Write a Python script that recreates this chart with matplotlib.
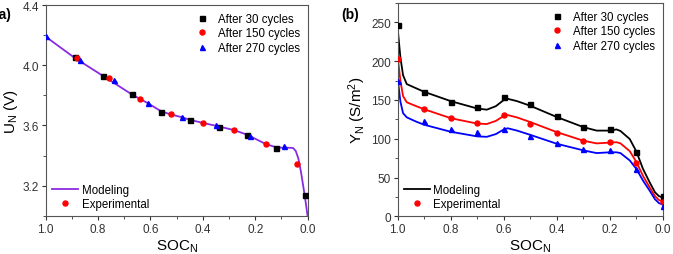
import numpy as np
import matplotlib.pyplot as plt
from matplotlib.ticker import MultipleLocator
from matplotlib.lines import Line2D

# ── DATA: panel (a), voltage vs SOC ────────────────────────────────
a_soc_30 = [0.89, 0.78, 0.67, 0.56, 0.45, 0.34, 0.23, 0.12, 0.01]
a_u_30 = [4.053, 3.929, 3.810, 3.692, 3.635, 3.593, 3.540, 3.452, 3.140]
a_soc_150 = [0.88, 0.76, 0.64, 0.52, 0.40, 0.28, 0.16, 0.04]
a_u_150 = [4.046, 3.916, 3.776, 3.675, 3.617, 3.569, 3.476, 3.345]
a_soc_270 = [1.0, 0.87, 0.74, 0.61, 0.48, 0.35, 0.22, 0.09]
a_u_270 = [4.192, 4.037, 3.905, 3.752, 3.659, 3.604, 3.533, 3.465]

a_model_soc = [1.0, 0.89, 0.78, 0.67, 0.61, 0.56, 0.52, 0.48, 0.45, 0.40,
               0.35, 0.28, 0.23, 0.20, 0.16, 0.12, 0.09, 0.07, 0.055,
               0.045, 0.035, 0.025, 0.015, 0.008, 0.0]
a_model_u = [4.19, 4.05, 3.928, 3.805, 3.748, 3.695, 3.672, 3.655, 3.638,
             3.617, 3.598, 3.569, 3.538, 3.512, 3.477, 3.455, 3.452, 3.452,
             3.450, 3.430, 3.38, 3.29, 3.18, 3.10, 3.0]

# ── DATA: panel (b), admittance vs SOC ─────────────────────────────
b_soc = [1.0, 0.9, 0.8, 0.7, 0.6, 0.5, 0.4, 0.3, 0.2, 0.1, 0.0]
b_y_30 = [247, 160, 147.5, 140.5, 153.5, 144.7, 129, 115.5, 113, 83.5, 25.5]
b_y_150 = [203.5, 138.5, 127, 120.5, 130, 119.3, 107.3, 97, 95.7, 69, 18]
b_y_270 = [174.7, 122.8, 112.9, 108.2, 112.5, 103.5, 94, 86.3, 85.4, 61, 13]

b_model_soc = [1.0, 0.99, 0.98, 0.966, 0.93, 0.9, 0.8, 0.7, 0.664, 0.63,
               0.6, 0.585, 0.55, 0.5, 0.4, 0.3, 0.25, 0.2, 0.175, 0.16,
               0.125, 0.1, 0.075, 0.05, 0.03, 0.015, 0.0]
b_model_30 = [241, 205, 182, 170.5, 165, 160.5, 148.5, 139, 137.5, 142,
              150, 151.5, 148.5, 142.5, 128, 115, 110.5, 110.5, 112, 110,
              99.6, 83.5, 61, 43.8, 31, 26, 24]
b_model_150 = [205, 175, 155, 147, 142, 138, 126.5, 119.5, 119, 123,
               129.5, 130.5, 127.5, 121.5, 108.5, 97.5, 94, 95, 95.5, 94,
               84, 70, 52, 37.4, 26, 21, 19]
b_model_270 = [177, 148, 133, 127.6, 122, 118, 109, 103, 102.5, 106,
               112, 113.5, 110.5, 105, 93.5, 85, 81.5, 82.5, 82.5, 81.5,
               72, 61, 46, 33, 22, 17, 15]

LEG_LABELS = ["After 30 cycles", "After 150 cycles", "After 270 cycles"]

# ── STYLE ──────────────────────────────────────────────────────────
plt.rcParams.update({
    "font.family": ["Liberation Sans", "DejaVu Sans"],
    "mathtext.fontset": "custom",
    "mathtext.rm": "Liberation Sans",
    "mathtext.it": "Liberation Sans",
    "font.size": 8.5,
    "axes.edgecolor": "#555555",
    "xtick.direction": "out",
    "ytick.direction": "out",
    "xtick.major.size": 3,
    "ytick.major.size": 3,
    "xtick.minor.size": 2,
    "ytick.minor.size": 2,
    "xtick.color": "#333333",
    "ytick.color": "#333333",
})

PURPLE = "#8a2be2"
MS = 3.6
FS_TICK = 8.5
FS_LEG = 8.3
FS_LAB = 11

fig = plt.figure(figsize=(6.73, 2.55), dpi=100)
ax_a = fig.add_axes([0.068, 0.150, 0.389, 0.826])
ax_b = fig.add_axes([0.591, 0.148, 0.394, 0.836])


def style_axis(ax):
    ax.set_xlim(1.0, 0.0)
    ax.set_xticks([1.0, 0.8, 0.6, 0.4, 0.2, 0.0])
    ax.set_xticklabels(["1.0", "0.8", "0.6", "0.4", "0.2", "0.0"])
    ax.xaxis.set_minor_locator(MultipleLocator(0.1))
    ax.tick_params(top=False, right=False, which="both",
                   labelsize=FS_TICK, pad=2)
    ax.set_xlabel("SOC$_N$", fontsize=FS_LAB, labelpad=2)


# ── Panel (a) ──
ax_a.plot(a_model_soc, a_model_u, color=PURPLE, lw=1.3, zorder=2)
ax_a.plot(a_soc_30, a_u_30, "s", color="black", ms=MS, ls="none", zorder=3)
ax_a.plot(a_soc_150, a_u_150, "o", color="red", ms=MS, ls="none", zorder=3)
ax_a.plot(a_soc_270, a_u_270, "^", color="blue", ms=MS, ls="none", zorder=3)
style_axis(ax_a)
ax_a.set_ylim(3.0, 4.4)
ax_a.set_yticks([3.2, 3.6, 4.0, 4.4])
ax_a.yaxis.set_minor_locator(MultipleLocator(0.2))
ax_a.set_ylabel("U$_N$ (V)", fontsize=FS_LAB, labelpad=2)

# ── Panel (b) ──
ax_b.plot(b_model_soc, b_model_30, color="black", lw=1.3, zorder=2)
ax_b.plot(b_model_soc, b_model_150, color="red", lw=1.3, zorder=2)
ax_b.plot(b_model_soc, b_model_270, color="blue", lw=1.3, zorder=2)
ax_b.plot(b_soc, b_y_30, "s", color="black", ms=MS, ls="none", zorder=3)
ax_b.plot(b_soc, b_y_150, "o", color="red", ms=MS, ls="none", zorder=3)
ax_b.plot(b_soc, b_y_270, "^", color="blue", ms=MS, ls="none", zorder=3)
style_axis(ax_b)
ax_b.set_ylim(0, 275)
ax_b.set_yticks([0, 50, 100, 150, 200, 250])
ax_b.yaxis.set_minor_locator(MultipleLocator(25))
ax_b.set_ylabel("Y$_N$ (S/m$^2$)", fontsize=FS_LAB, labelpad=2)

# ── Legends ──
def add_legends(ax, model_color):
    cyc = [Line2D([], [], marker=m, color=c, ls="none", ms=MS)
           for m, c in (("s", "black"), ("o", "red"), ("^", "blue"))]
    leg1 = ax.legend(cyc, LEG_LABELS, loc="upper right", frameon=False,
                     fontsize=FS_LEG, handlelength=1.2, handletextpad=0.8,
                     labelspacing=0.22, borderaxespad=0.25)
    ax.add_artist(leg1)
    hs = [Line2D([], [], color=model_color, lw=1.3),
          Line2D([], [], marker="o", color="red", ls="none", ms=MS)]
    ax.legend(hs, ["Modeling", "Experimental"], loc="lower left",
              frameon=False, fontsize=FS_LEG, handlelength=2.3,
              handletextpad=0.3, labelspacing=0.2, borderaxespad=0.1)


add_legends(ax_a, PURPLE)
add_legends(ax_b, "black")

# panel labels
fig.text(-0.008, 0.925, "(a)", fontsize=10, fontweight="bold")
fig.text(0.507, 0.925, "(b)", fontsize=10, fontweight="bold")

fig.savefig("out.png", dpi=100)
